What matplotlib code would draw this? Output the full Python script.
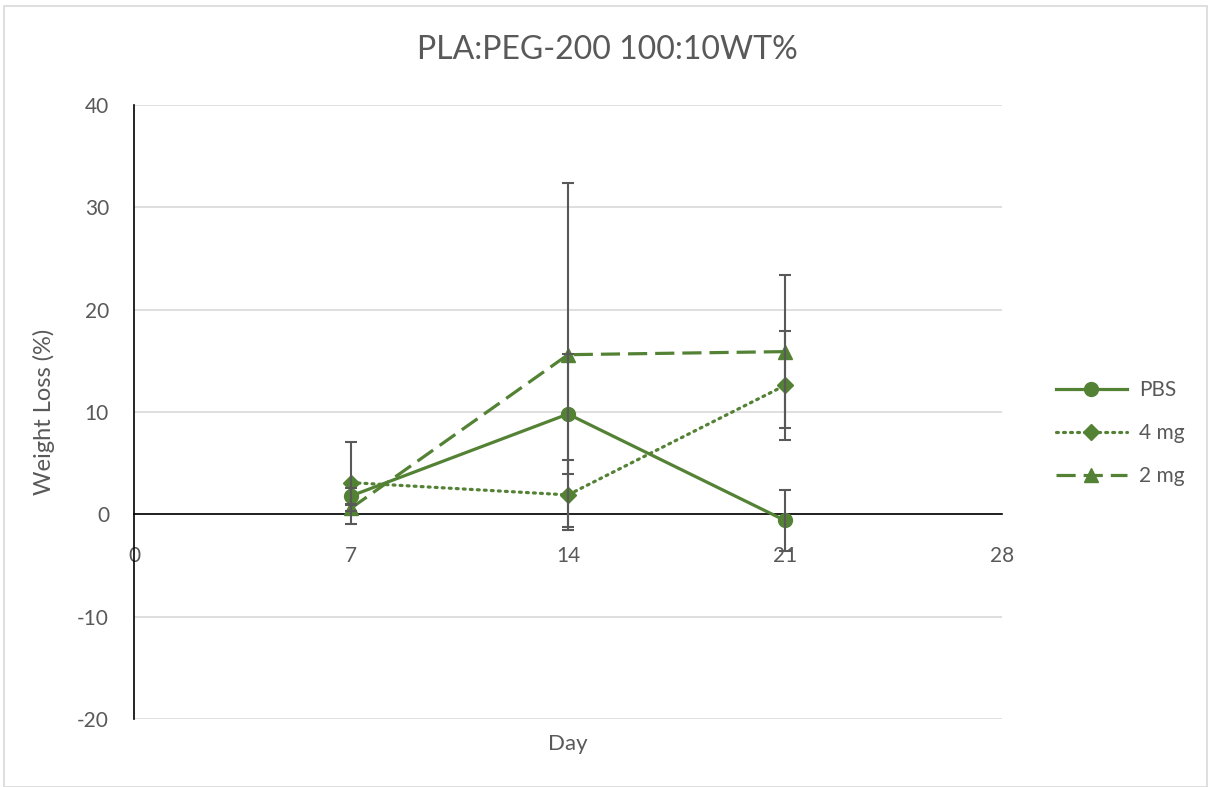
import numpy as np
import matplotlib.pyplot as plt
from matplotlib.patches import Rectangle

plt.rcParams['font.family'] = ['Lato', 'DejaVu Sans']
plt.rcParams['axes.unicode_minus'] = False

days = [7, 14, 21]
pbs = [1.8, 9.8, -0.6]
pbs_err = [0.8, 5.9, 3.0]
mg4 = [3.1, 1.9, 12.6]
mg4_err = [4.0, 3.4, 5.3]
mg2 = [0.6, 15.6, 15.9]
mg2_err = [0.3, 16.8, 7.5]

green = '#548235'
grey = '#595959'

fig = plt.figure(figsize=(12.12, 7.87), dpi=100)
ax = fig.add_axes([134/1212, 1-719/787, (1002-134)/1212, (719-105)/787])

ax.plot(days, pbs, color=green, lw=2.3, marker='o', ms=10, label='PBS', zorder=3)
ax.plot(days, mg4, color=green, lw=2.3, ls=(0, (0.6, 1.6)), dash_capstyle='round',
        marker='D', ms=8, label='4 mg', zorder=3)
ax.plot(days, mg2, color=green, lw=2.3, ls=(0, (6, 2.5)), marker='^', ms=10,
        label='2 mg', zorder=3)

for y, e in [(pbs, pbs_err), (mg4, mg4_err), (mg2, mg2_err)]:
    ax.errorbar(days, y, yerr=e, fmt='none', ecolor=grey, elinewidth=1.5,
                capsize=4.5, capthick=1.5, zorder=4)

ax.set_xlim(0, 28)
ax.set_ylim(-20, 40)
ax.set_xticks([0, 7, 14, 21, 28])
ax.set_yticks(np.arange(-20, 41, 10))
ax.grid(axis='y', color='#d9d9d9', lw=1.2, zorder=0)
ax.set_axisbelow(True)

for s in ['top', 'right']:
    ax.spines[s].set_visible(False)
ax.spines['bottom'].set_position(('data', 0))
ax.spines['bottom'].set_color('black')
ax.spines['left'].set_color('black')
ax.spines['bottom'].set_linewidth(1.2)
ax.spines['left'].set_linewidth(1.2)
ax.tick_params(axis='x', length=0, pad=23, labelsize=15, colors=grey)
ax.tick_params(axis='y', length=0, pad=18, labelsize=15, colors=grey)

fig.text(607/1212, 1-50/787, 'PLA:PEG-200 100:10WT%', fontsize=23, color=grey,
         ha='center', va='center')
ax.set_xlabel('Day', fontsize=16, color=grey)
ax.xaxis.set_label_coords(0.5, -0.025)
ax.set_ylabel('Weight Loss (%)', fontsize=17, color=grey, labelpad=16)

fig.legend(loc='center left', bbox_to_anchor=(1056/1212, 1-433/787), frameon=False,
           borderpad=0, borderaxespad=0, fontsize=15, labelcolor=grey,
           handlelength=3.4, handletextpad=0.6, labelspacing=1.1)

fig.patches.append(Rectangle((4/1212, 0), 1203/1212, 1-6/787, transform=fig.transFigure,
                             fill=False, edgecolor='#d9d9d9', lw=1.2))

fig.savefig('out.png', dpi=100)
